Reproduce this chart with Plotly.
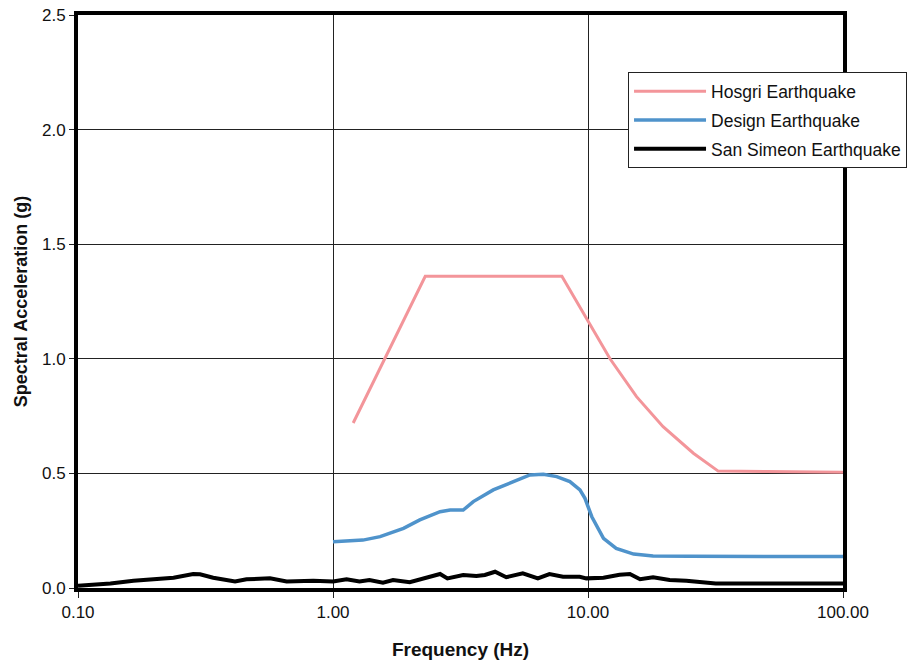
import plotly.graph_objects as go

# Hosgri Earthquake
hosgri_f = [1.2, 2.3, 7.9, 9.9, 12.2, 15.5, 19.7, 25.9, 32.4, 50.0, 100.0]
hosgri_v = [0.72, 1.36, 1.36, 1.17, 1.0, 0.835, 0.704, 0.588, 0.51, 0.508, 0.505]

# Design Earthquake
design_f = [1.0, 1.31, 1.53, 1.89, 2.19, 2.63, 2.88, 3.24, 3.55, 4.25, 5.10, 5.92, 6.68,
            7.54, 8.49, 9.30, 9.73, 10.35, 11.5, 12.9, 15.1, 18.0, 25.0, 40.0, 60.0, 100.0]
design_v = [0.202, 0.209, 0.224, 0.260, 0.297, 0.333, 0.340, 0.340, 0.377, 0.428, 0.464, 0.493, 0.496,
            0.486, 0.464, 0.428, 0.391, 0.311, 0.217, 0.173, 0.148, 0.140, 0.138, 0.138, 0.138, 0.137]

# San Simeon Earthquake
sansim_f = [0.10, 0.134, 0.165, 0.204, 0.237, 0.283, 0.301, 0.339, 0.413, 0.458, 0.566, 0.658,
            0.837, 1.0, 1.13, 1.27, 1.39, 1.57, 1.72, 2.0, 2.26, 2.63, 2.81, 3.24, 3.65, 3.94,
            4.32, 4.78, 5.55, 6.36, 7.06, 7.98, 9.28, 9.85, 11.5, 13.3, 14.6, 16.0, 18.0, 20.9,
            24.3, 29.0, 31.7, 44.6, 80.0, 100.0]
sansim_v = [0.01, 0.02, 0.032, 0.042, 0.045, 0.061, 0.060, 0.045, 0.028, 0.038, 0.042, 0.028,
            0.032, 0.028, 0.038, 0.028, 0.035, 0.023, 0.035, 0.025, 0.042, 0.061, 0.042, 0.057, 0.052, 0.057,
            0.071, 0.047, 0.064, 0.042, 0.061, 0.049, 0.049, 0.042, 0.045, 0.058, 0.061, 0.038, 0.047, 0.035,
            0.032, 0.023, 0.02, 0.02, 0.02, 0.02]

x_tickvals = [0.1, 1, 10, 100]
x_ticktext = ["0.10", "1.00", "10.00", "100.00"]
y_tickvals = [0.0, 0.5, 1.0, 1.5, 2.0, 2.5]
y_ticktext = ["0.0", "0.5", "1.0", "1.5", "2.0", "2.5"]

FONT = "Liberation Sans, Arial, sans-serif"

fig = go.Figure()
fig.add_trace(go.Scatter(x=hosgri_f, y=hosgri_v, mode="lines", name="Hosgri Earthquake",
                         legendgroup="a", line=dict(color="#F3959A", width=3)))
fig.add_trace(go.Scatter(x=design_f, y=design_v, mode="lines", name="Design Earthquake",
                         legendgroup="b", line=dict(color="#4F93CB", width=3.5)))
fig.add_trace(go.Scatter(x=sansim_f, y=sansim_v, mode="lines", name="San Simeon Earthquake",
                         legendgroup="c", line=dict(color="#000000", width=4)))

fig.update_layout(
    width=917, height=660,
    margin=dict(l=78, r=74, t=15, b=72, autoexpand=False),
    paper_bgcolor="white", plot_bgcolor="white",
    font=dict(family=FONT, size=17, color="#111"),
    showlegend=True,
    legend=dict(x=0.719, y=0.9, xanchor="left", yanchor="top",
                bgcolor="white", bordercolor="#222", borderwidth=1,
                font=dict(family=FONT, size=17.5, color="#111"),
                tracegroupgap=3, itemwidth=72),
    xaxis=dict(type="log", range=[-1, 2], tickvals=x_tickvals, ticktext=x_ticktext,
               showgrid=True, gridcolor="#222", gridwidth=1,
               showline=True, linecolor="black", linewidth=4, mirror=True,
               ticks="outside", ticklen=6, tickcolor="#222",
               zeroline=False, automargin=False,
               title=dict(text="<b>Frequency (Hz)</b>", font=dict(family=FONT, size=19), standoff=22)),
    yaxis=dict(range=[0, 2.5], tickvals=y_tickvals, ticktext=y_ticktext,
               showgrid=True, gridcolor="#222", gridwidth=1,
               showline=True, linecolor="black", linewidth=4, mirror=True,
               ticks="outside", ticklen=5, tickcolor="#222",
               zeroline=False, automargin=False,
               title=dict(text="<b>Spectral Acceleration (g)</b>", font=dict(family=FONT, size=18), standoff=11)),
)

fig.write_html("out.html", config={"displayModeBar": False},
               post_script="document.body.style.margin='0';document.body.style.padding='0';")
